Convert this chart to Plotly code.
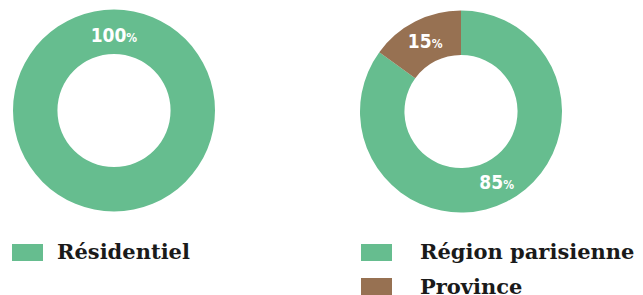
import plotly.graph_objects as go

left_labels = ["Résidentiel"]
left_values = [100]
right_labels = ["Région parisienne", "Province"]
right_values = [85, 15]
colors_left = ["#66BD8F"]
colors_right = ["#66BD8F", "#977152"]

W, H = 643, 295
OFF = 8  # page body margin
fig = go.Figure()

def px(x):
    return (x - OFF) / W

def py(y):
    return 1 - (y - OFF) / H

tmpl = "%{value}<span style='font-size:12px'>%</span>"
common = dict(hole=0.56, sort=False, direction="clockwise",
              textinfo="value", texttemplate=tmpl, textposition="inside",
              insidetextorientation="horizontal", showlegend=False,
              hoverinfo="label+percent",
              textfont=dict(family="DejaVu Sans Condensed, Liberation Sans Narrow, sans-serif",
                            size=19, color="white", weight="bold"),
              marker=dict(line=dict(width=0)))

fig.add_trace(go.Pie(labels=left_labels, values=left_values, rotation=180,
                     marker_colors=colors_left,
                     domain=dict(x=[px(13), px(215)], y=[py(212), py(9)]), **common))
fig.add_trace(go.Pie(labels=right_labels, values=right_values, rotation=0,
                     marker_colors=colors_right,
                     domain=dict(x=[px(360), px(562)], y=[py(213), py(10)]), **common))

def legend_item(x0, yc, label, color, tx):
    fig.add_shape(type="rect", xref="paper", yref="paper",
                  x0=px(x0), x1=px(x0 + 31), y0=py(yc + 9), y1=py(yc - 8),
                  fillcolor=color, line=dict(width=0))
    fig.add_annotation(xref="paper", yref="paper", x=px(tx), y=py(yc),
                       xanchor="left", yanchor="middle", showarrow=False,
                       text=label, font=dict(family="DejaVu Serif", size=21,
                                             color="#1a1a1a", weight="bold"))

legend_item(12, 252, left_labels[0], colors_left[0], 55)
legend_item(361, 252, right_labels[0], colors_right[0], 418)
legend_item(361, 286, right_labels[1], colors_right[1], 418)

fig.update_layout(width=W, height=H, margin=dict(l=0, r=0, t=0, b=0),
                  paper_bgcolor="white", plot_bgcolor="white")
fig.write_html("out.html")
